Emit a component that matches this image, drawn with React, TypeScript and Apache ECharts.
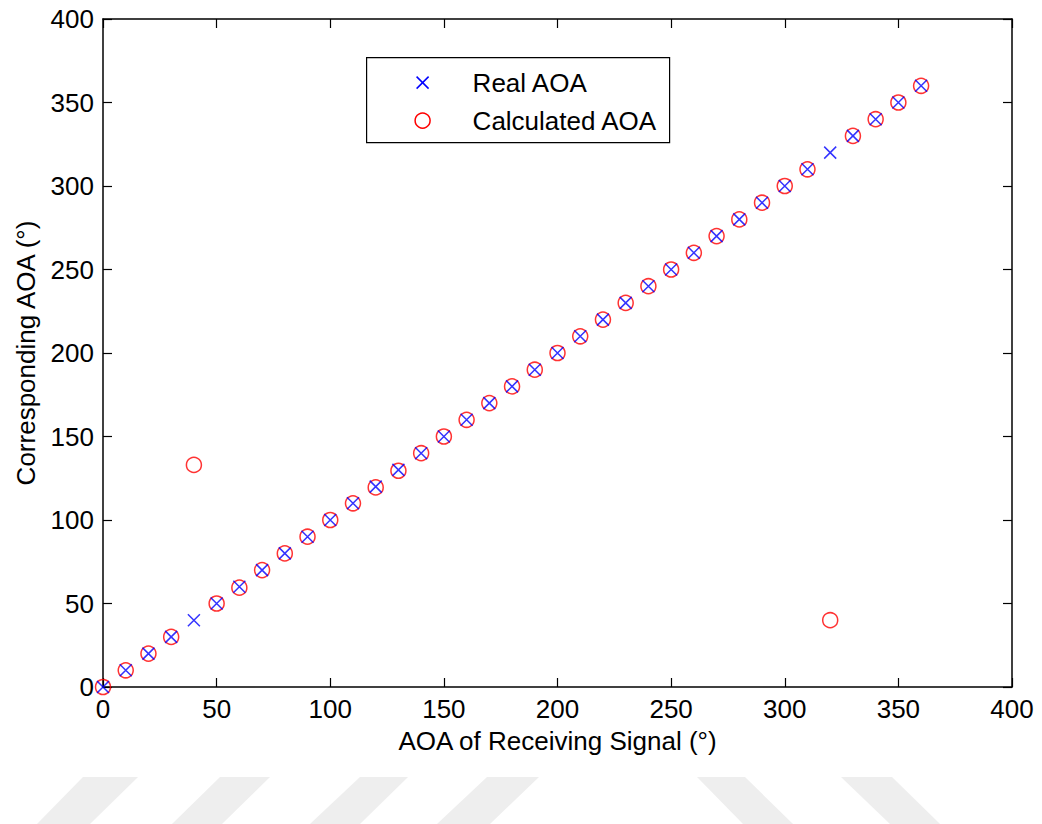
import React, { useEffect, useRef } from "react";
import * as echarts from "echarts";

const aoaX = [0, 10, 20, 30, 40, 50, 60, 70, 80, 90, 100, 110, 120, 130, 140, 150, 160, 170, 180, 190, 200, 210, 220, 230, 240, 250, 260, 270, 280, 290, 300, 310, 320, 330, 340, 350, 360];
const realAOA = [0, 10, 20, 30, 40, 50, 60, 70, 80, 90, 100, 110, 120, 130, 140, 150, 160, 170, 180, 190, 200, 210, 220, 230, 240, 250, 260, 270, 280, 290, 300, 310, 320, 330, 340, 350, 360];
const calculatedAOA = [0, 10, 20, 30, 133, 50, 59.5, 70, 80, 90, 100, 110, 119.5, 129.5, 140, 150, 160, 170, 180, 190, 200, 210, 220, 230, 240, 250, 260, 270, 280, 290, 300, 310, 40, 330, 340, 350, 360];
const seriesNames = ["Real AOA", "Calculated AOA"];
const xAxisTitle = "AOA of Receiving Signal (°)";
const yAxisTitle = "Corresponding AOA (°)";

const FONT = "'Liberation Sans', Arial, Helvetica, sans-serif";
const FS = 26;

export default function App() {
  const ref = useRef<HTMLDivElement>(null);
  useEffect(() => {
    if (!ref.current) return;
    const chart = echarts.init(ref.current, undefined, { renderer: "svg" });
    const axisCommon = {
      type: "value" as const,
      min: 0,
      max: 400,
      interval: 50,
      splitLine: { show: false },
      axisLine: { show: true, onZero: false, lineStyle: { color: "#000", width: 1.5 } },
      axisTick: { show: true, inside: true, length: 9, lineStyle: { color: "#000", width: 1.2 } },
    };
    const wm = [
      [[83, 777], [138, 777], [90, 824], [37, 824]],
      [[220, 777], [270, 777], [222, 824], [172, 824]],
      [[360, 777], [408, 777], [360, 824], [310, 824]],
      [[487, 777], [539, 777], [490, 824], [437, 824]],
      [[697, 777], [745, 777], [793, 824], [743, 824]],
      [[841, 777], [892, 777], [940, 824], [890, 824]],
    ];
    const watermark = wm.map((pts) => ({
      type: "polygon",
      z: -10,
      silent: true,
      shape: { points: pts },
      style: { fill: "#eeeeee" },
    }));
    const legendGroup = {
      type: "group",
      left: 366,
      top: 57,
      z: 100,
      children: [
        {
          type: "rect",
          shape: { x: 0, y: 0, width: 303, height: 85 },
          style: { fill: "#fff", stroke: "#000", lineWidth: 1.2 },
        },
        {
          type: "line",
          shape: { x1: 50, y1: 19, x2: 62, y2: 31 },
          style: { stroke: "#0000ff", lineWidth: 1.5 },
        },
        {
          type: "line",
          shape: { x1: 50, y1: 31, x2: 62, y2: 19 },
          style: { stroke: "#0000ff", lineWidth: 1.5 },
        },
        {
          type: "circle",
          shape: { cx: 56, cy: 63, r: 7.5 },
          style: { fill: "none", stroke: "#ff0000", lineWidth: 1.5 },
        },
        {
          type: "text",
          x: 106,
          y: 25,
          style: { text: seriesNames[0], fontSize: FS, fontFamily: FONT, fill: "#000", verticalAlign: "middle", align: "left" },
        },
        {
          type: "text",
          x: 106,
          y: 63,
          style: { text: seriesNames[1], fontSize: FS, fontFamily: FONT, fill: "#000", verticalAlign: "middle", align: "left" },
        },
      ],
    };
    chart.setOption({
      animation: false,
      backgroundColor: "#fff",
      textStyle: { fontFamily: FONT },
      grid: { left: 103, right: 30, top: 19, bottom: 137, containLabel: false },
      legend: { show: false, data: seriesNames },
      xAxis: [
        {
          ...axisCommon,
          position: "bottom",
          axisLabel: { fontSize: FS, color: "#000", margin: 9, fontFamily: FONT },
          name: xAxisTitle,
          nameLocation: "middle",
          nameGap: 41,
          nameTextStyle: { fontSize: FS, color: "#000", fontFamily: FONT },
        },
        { ...axisCommon, position: "top", axisLabel: { show: false } },
      ],
      yAxis: [
        {
          ...axisCommon,
          position: "left",
          axisLabel: { fontSize: FS, color: "#000", margin: 9, fontFamily: FONT },
          name: yAxisTitle,
          nameLocation: "middle",
          nameGap: 64,
          nameTextStyle: { fontSize: FS, color: "#000", fontFamily: FONT },
        },
        { ...axisCommon, position: "right", axisLabel: { show: false } },
      ],
      series: [
        {
          name: seriesNames[0],
          type: "scatter",
          xAxisIndex: 0,
          yAxisIndex: 0,
          z: 3,
          symbol: "path://M0,0L10,10M10,0L0,10",
          symbolKeepAspect: true,
          symbolSize: 12,
          itemStyle: { color: "transparent", borderColor: "#0000ff", borderWidth: 1.5 },
          data: aoaX.map((x, i) => [x, realAOA[i]]),
        },
        {
          name: seriesNames[1],
          type: "scatter",
          xAxisIndex: 0,
          yAxisIndex: 0,
          z: 2,
          symbol: "circle",
          symbolSize: 15,
          itemStyle: { color: "transparent", borderColor: "#ff0000", borderWidth: 1.5 },
          data: aoaX.map((x, i) => [x, calculatedAOA[i]]),
        },
      ],
      graphic: [...watermark, legendGroup],
    });
    return () => chart.dispose();
  }, []);
  return (
    <div
      ref={ref}
      style={{ position: "fixed", left: 0, top: 0, width: 1042, height: 824 }}
    />
  );
}
